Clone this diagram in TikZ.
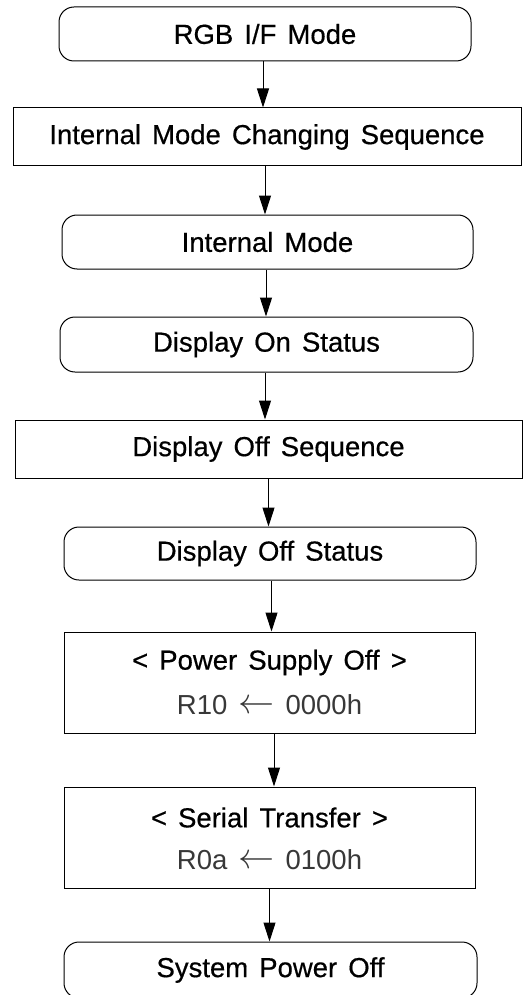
\documentclass[tikz,border=0pt]{standalone}
\usepackage{fontspec}
\setmainfont{Liberation Sans}[WordSpace=1.45, FakeBold=0.5]
\newfontfamily\regfont{Liberation Sans}[WordSpace=1.45]
\usetikzlibrary{arrows.meta}

\tikzset{
  base/.style={draw=black, line width=1pt, fill=white, inner sep=0pt,
               font=\fontsize{27.5}{32}\selectfont},
  state/.style={base, rounded corners=15pt},
  proc/.style={base},
  label/.style={inner sep=0pt, font=\fontsize{27.5}{32}\selectfont},
  reg/.style={inner sep=0pt, font=\fontsize{27.5}{32}\regfont, text=black!78},
  flow/.style={line width=1pt, -{Triangle[length=19pt,width=12pt]}}
}
\newcommand{\larr}{\raisebox{1pt}{\scalebox{1.45}{$\leftarrow$}}}

\begin{document}
\begin{tikzpicture}[x=1pt,y=-1pt]
  \useasboundingbox (0,0) rectangle (528,995);
  \clip (0,0) rectangle (528,995);

  % main flow
  \node[state, minimum width=412pt, minimum height=54pt] (rgb) at (265,34) {RGB I/F Mode};
  \node[proc,  minimum width=508pt, minimum height=58pt] (ichg) at (267,137) {Internal Mode Changing Sequence};
  \node[state, minimum width=411pt, minimum height=54pt] (imode) at (267.5,242) {Internal Mode};
  \node[state, minimum width=413pt, minimum height=55pt] (don) at (266.5,344.5) {Display On Status};
  \node[proc,  minimum width=507pt, minimum height=58pt] (doffseq) at (268.5,449) {Display Off Sequence};
  \node[state, minimum width=412pt, minimum height=53pt] (doff) at (270,553.5) {Display Off Status};

  % register writes
  \node[proc, minimum width=411pt, minimum height=101pt] (pso) at (269.5,682.5) {};
  \node[label] (psot) at ([yshift=20pt]pso.center) {< Power Supply Off >};
  \node[reg]   (psor) at ([yshift=-22.5pt]pso.center) {R10 \larr{} 0000h};

  \node[proc, minimum width=411pt, minimum height=101pt] (ser) at (269.5,837.5) {};
  \node[label] (sert) at ([yshift=20pt]ser.center) {< Serial Transfer >};
  \node[reg]   (serr) at ([yshift=-22.5pt]ser.center) {R0a \larr{} 0100h};

  \node[state, minimum width=413pt, minimum height=56pt] (spo) at (270.5,970) {System Power Off};

  % connectors
  \draw[flow] ([xshift=-2pt]rgb.south)     -- ([xshift=-2pt]rgb.south |- ichg.north);
  \draw[flow] ([xshift=-2pt]ichg.south)    -- ([xshift=-2pt]ichg.south |- imode.north);
  \draw[flow] ([xshift=-1.5pt]imode.south) -- ([xshift=-1.5pt]imode.south |- don.north);
  \draw[flow] ([xshift=-1.5pt]don.south)   -- ([xshift=-1.5pt]don.south |- doffseq.north);
  \draw[flow] (doffseq.south)              -- (doffseq.south |- doff.north);
  \draw[flow] ([xshift=1.5pt]doff.south)   -- ([xshift=1.5pt]doff.south |- pso.north);
  \draw[flow] ([xshift=4.5pt]pso.south)    -- ([xshift=4.5pt]pso.south |- ser.north);
  \draw[flow] (ser.south)                  -- (ser.south |- spo.north);
\end{tikzpicture}
\end{document}
